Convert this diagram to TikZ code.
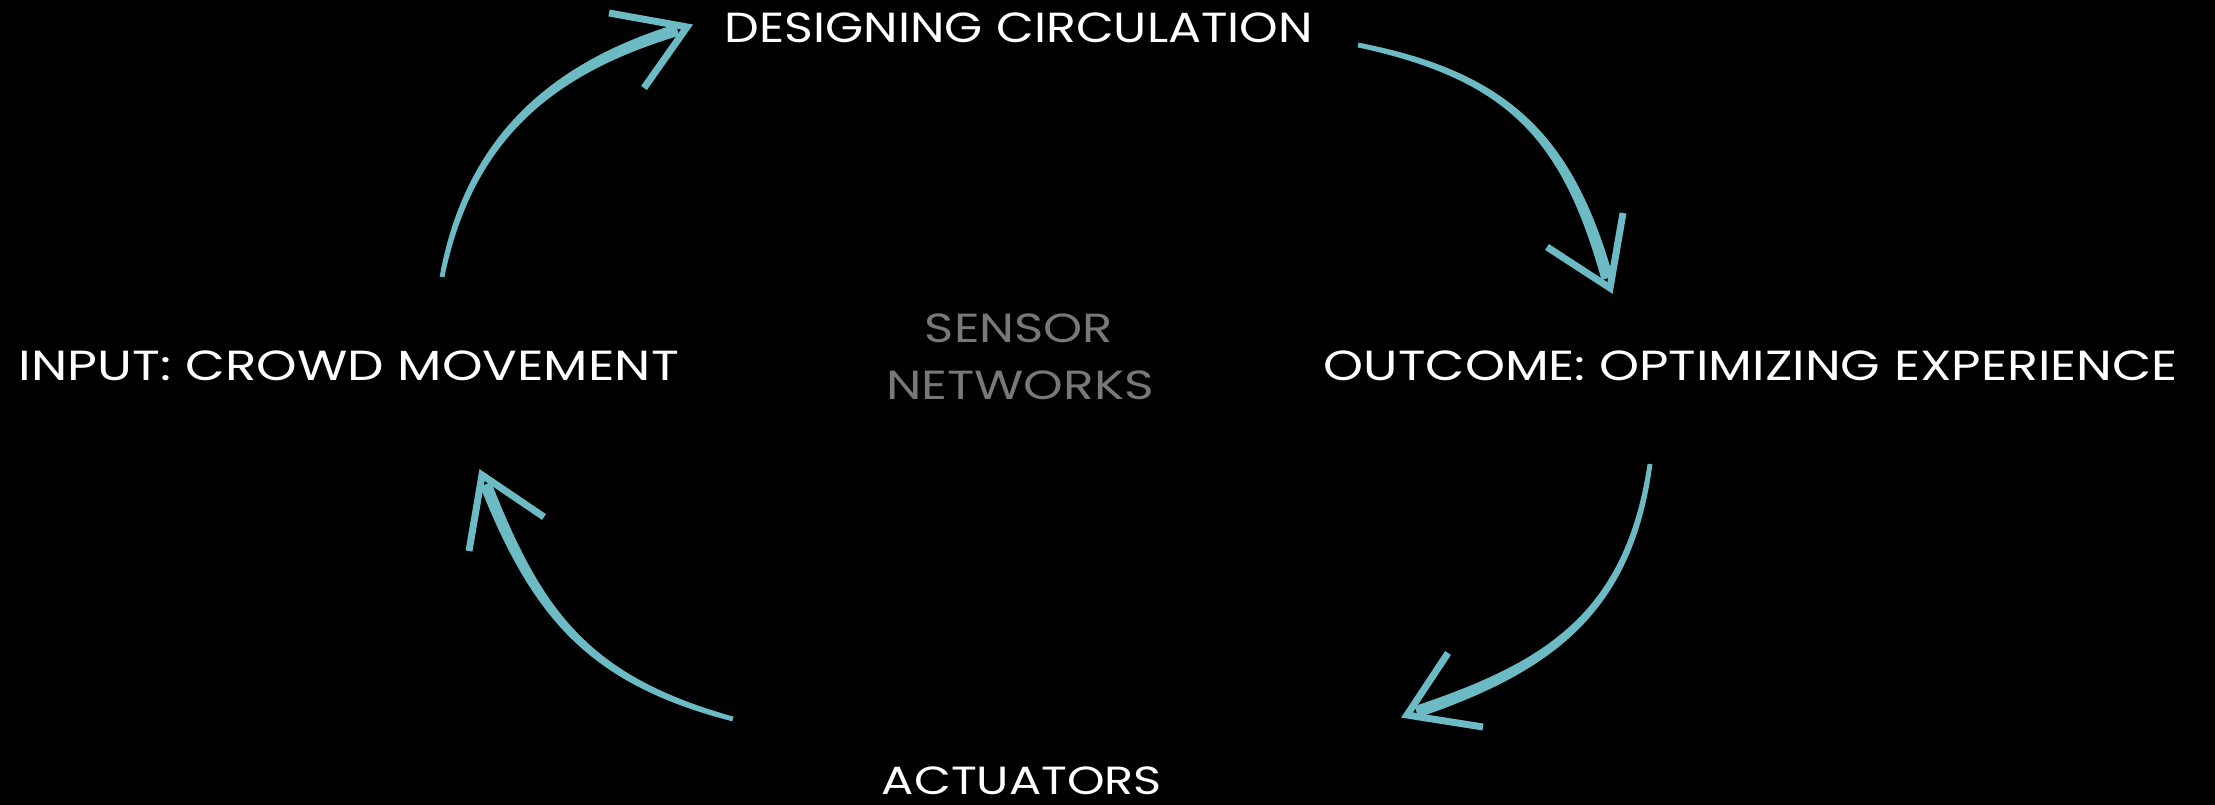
\documentclass[tikz,border=0pt]{standalone}
\usepackage{fontspec}
\setmainfont{Poppins}
\usetikzlibrary{calc}
\definecolor{arrowcol}{RGB}{108,186,196}
\definecolor{graytxt}{RGB}{120,120,120}
% #1 tail, #2 ctrl1, #3 ctrl2, #4 shaft end; half widths: 2.4pt at tail, 4pt at ctrl1, 5.5pt at ctrl2, 6pt at end
\newcommand\taperarrow[4]{%
  \fill[arrowcol] ($(#1)!2.4pt!90:(#2)$) .. controls ($(#2)!4pt!-90:(#1)$) and ($(#3)!5.5pt!90:(#4)$) .. ($(#4)!6pt!-90:(#3)$)
    -- ($(#4)!6pt!90:(#3)$) .. controls ($(#3)!5.5pt!-90:(#4)$) and ($(#2)!4pt!90:(#1)$) .. ($(#1)!2.4pt!-90:(#2)$) -- cycle;}
\begin{document}
\begin{tikzpicture}[x=1pt,y=-1pt,
  lbl/.style={inner sep=0pt, text=white},
  glbl/.style={inner sep=0pt, text=graytxt},
  barb/.style={draw=arrowcol, line width=7pt, line join=miter, line cap=butt}]
\fill[black] (0,0) rectangle (2215,805);
\useasboundingbox (0,0) rectangle (2215,805);

% labels
\node[lbl] (design) at (1019,28) {\resizebox*{588pt}{30pt}{DESIGNING CIRCULATION}};
\node[lbl] (input) at (349,366) {\resizebox*{660pt}{30pt}{INPUT: CROWD MOVEMENT}};
\node[lbl] (outcome) at (1751,366) {\resizebox*{854pt}{30pt}{OUTCOME: OPTIMIZING EXPERIENCE}};
\node[glbl] (sensor) at (1019,328.5) {\resizebox*{188pt}{29pt}{SENSOR}};
\node[glbl] (networks) at (1020,385) {\resizebox*{268pt}{29pt}{NETWORKS}};
\node[lbl] (actuators) at (1022,781) {\resizebox*{280pt}{28pt}{ACTUATORS}};

% arrow 1: input -> design
\coordinate (a1t) at (442,277);
\coordinate (a1c1) at (469,137);
\coordinate (a1c2) at (553,68);
\coordinate (a1tip) at (687,27);
\coordinate (a1e) at ($(a1tip)!10pt!(a1c2)$);
\coordinate (a1b1) at (609,13);
\coordinate (a1b2) at (644,88);
\taperarrow{a1t}{a1c1}{a1c2}{a1e}
\draw[barb] (a1b1) -- (a1tip) -- (a1b2);

% arrow 2: design -> outcome
\coordinate (a2t) at (1358,45);
\coordinate (a2c1) at (1510,76);
\coordinate (a2c2) at (1568,139);
\coordinate (a2tip) at (1610,288);
\coordinate (a2e) at ($(a2tip)!10pt!(a2c2)$);
\coordinate (a2b1) at (1547,247);
\coordinate (a2b2) at (1623,213);
\taperarrow{a2t}{a2c1}{a2c2}{a2e}
\draw[barb] (a2b1) -- (a2tip) -- (a2b2);

% arrow 3: outcome -> actuators
\coordinate (a3t) at (1650,464);
\coordinate (a3c1) at (1629,613);
\coordinate (a3c2) at (1549,667);
\coordinate (a3tip) at (1407,715);
\coordinate (a3e) at ($(a3tip)!10pt!(a3c2)$);
\coordinate (a3b1) at (1448,653);
\coordinate (a3b2) at (1483,727);
\taperarrow{a3t}{a3c1}{a3c2}{a3e}
\draw[barb] (a3b1) -- (a3tip) -- (a3b2);

% arrow 4: actuators -> input
\coordinate (a4t) at (733,719);
\coordinate (a4c1) at (588,680);
\coordinate (a4c2) at (537,614);
\coordinate (a4tip) at (482,475);
\coordinate (a4e) at ($(a4tip)!10pt!(a4c2)$);
\coordinate (a4b1) at (469,551);
\coordinate (a4b2) at (544,517);
\taperarrow{a4t}{a4c1}{a4c2}{a4e}
\draw[barb] (a4b1) -- (a4tip) -- (a4b2);
\end{tikzpicture}
\end{document}
